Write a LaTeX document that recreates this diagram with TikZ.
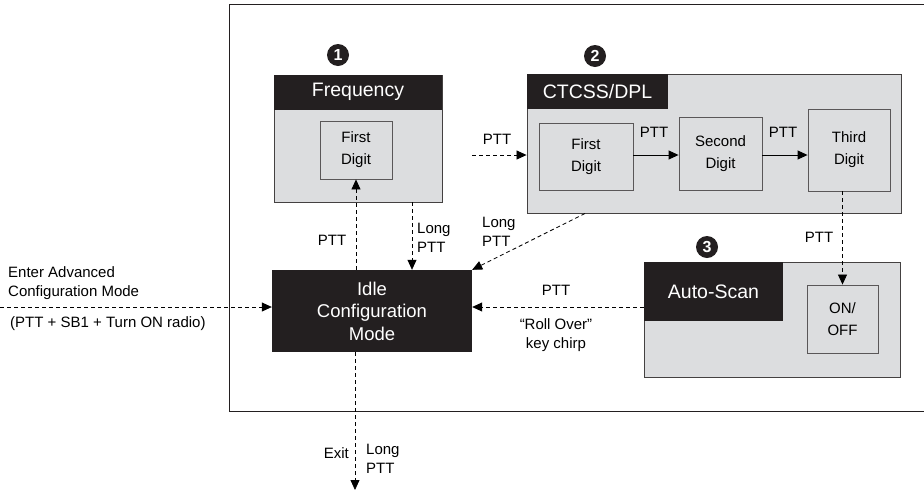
\documentclass[tikz,border=0pt]{standalone}
\usepackage{fontspec}
\setmainfont{Liberation Sans}
\usetikzlibrary{arrows.meta}
\definecolor{boxgray}{HTML}{DCDDDF}
\definecolor{ink}{HTML}{231F20}
\begin{document}
\begin{tikzpicture}[x=1pt,y=-1pt,
  panel/.style={draw=ink!85, line width=0.9pt, fill=boxgray, inner sep=0pt},
  header/.style={fill=ink, text=white, inner sep=0pt, font=\fontsize{19.5}{23}\selectfont},
  digit/.style={draw=ink!75, line width=0.9pt, fill=boxgray, inner sep=0pt, align=center, font=\fontsize{15}{22}\selectfont},
  lbl/.style={inner sep=0pt, align=left, font=\fontsize{15}{19}\selectfont},
  dashline/.style={line width=0.8pt, dash pattern=on 4pt off 3pt, -{Triangle[length=10pt,width=9pt]}},
  solidline/.style={line width=0.9pt, -{Triangle[length=10pt,width=9pt]}},
  badge/.style={circle, fill=ink, text=white, minimum size=22pt, inner sep=0pt, font=\fontsize{16}{16}\selectfont\bfseries}
]
\useasboundingbox (0,0) rectangle (924,491);
% outer frame
\draw[ink, line width=0.9pt] (229,4) rectangle (930,411);

% Frequency panel
\node[panel, minimum width=168pt, minimum height=127pt] (freq) at (358,138.5) {};
\node[header, minimum width=168pt, minimum height=35pt, anchor=north] (freqh) at (freq.north) {Frequency};
\node[digit, minimum width=72pt, minimum height=58pt] (f1) at (356,150) {First\\Digit};
\node[badge] (b1) at (338,55) {1};

% CTCSS panel
\node[panel, minimum width=374pt, minimum height=139pt] (ctcss) at (714,143.5) {};
\node[header, minimum width=141pt, minimum height=35pt] (ctcssh) at (597.5,91.5) {CTCSS/DPL};
\node[digit, minimum width=94pt, minimum height=67pt] (c1) at (586,156.5) {First\\Digit};
\node[digit, minimum width=83pt, minimum height=73pt] (c2) at (720.5,153.5) {Second\\Digit};
\node[digit, minimum width=82pt, minimum height=82pt] (c3) at (849,150) {Third\\Digit};
\node[badge] (b2) at (595,56) {2};

% Auto-Scan panel
\node[panel, minimum width=256pt, minimum height=115pt] (auto) at (772,319.5) {};
\node[header, minimum width=139pt, minimum height=59pt] (autoh) at (713.5,291.5) {Auto-Scan};
\node[digit, minimum width=71pt, minimum height=68pt] (onoff) at (842.5,319) {ON/\\OFF};
\node[badge] (b3) at (707,247) {3};

% Idle
\node[fill=ink, text=white, inner sep=0pt, minimum width=200pt, minimum height=82pt, align=center,
      font=\fontsize{18.5}{22.5}\selectfont] (idle) at (372,311) {Idle\\Configuration\\Mode};

% helper coordinates
\coordinate (mid) at (0,307);
\coordinate (exitc) at (355,490);
\coordinate (lp) at (412,0);
\coordinate (pc) at (472,155);
\coordinate (dg) at (585,0);

% connectors
\draw[dashline] (mid) -- (mid -| idle.west);
\draw[dashline] (exitc |- idle.south) -- (exitc);
\draw[dashline] (f1.south |- idle.north) -- (f1.south);
\draw[dashline] (lp |- freq.south) -- (lp |- idle.north);
\draw[dashline] (pc) -- (pc -| ctcss.west);
\draw[solidline] (c1.east |- pc) -- (pc -| c2.west);
\draw[solidline] (c2.east |- pc) -- (pc -| c3.west);
\draw[dashline] (c3.south -| onoff.north) -- (onoff.north);
\draw[dashline] (dg |- ctcss.south) -- (idle.north east);
\draw[dashline] (mid -| auto.west) -- (mid -| idle.east);

% labels
\node[lbl, anchor=north west] (enter) at (8,266) {Enter Advanced\\Configuration Mode};
\node[lbl, anchor=west] (combo) at (10,324) {(PTT + SB1 + Turn ON radio)};
\node[lbl] (l1) at (332,240) {PTT};
\node[lbl, anchor=west] (l2) at (417,238) {Long\\PTT};
\node[lbl, anchor=west] (l3) at (482,232) {Long\\PTT};
\node[lbl] (l4) at (497,139) {PTT};
\node[lbl] (l5) at (654,132) {PTT};
\node[lbl] (l6) at (783,132) {PTT};
\node[lbl] (l7) at (819,237) {PTT};
\node[lbl] (l8) at (556,290) {PTT};
\node[lbl, align=center] (l9) at (556,335) {“Roll Over”\\key chirp};
\node[lbl, anchor=east] (l10) at (349,453) {Exit};
\node[lbl, anchor=west] (l11) at (366,459) {Long\\PTT};
\end{tikzpicture}
\end{document}
